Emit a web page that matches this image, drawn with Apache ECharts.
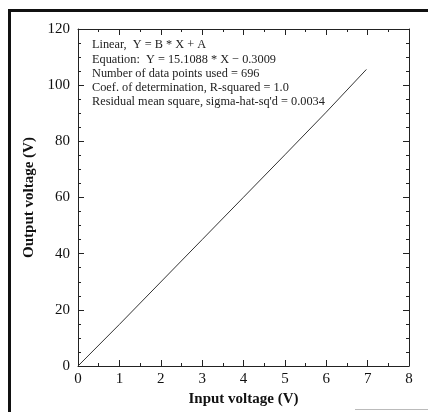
<!DOCTYPE html>
<html><head><meta charset="utf-8">
<script src="https://cdn.jsdelivr.net/npm/echarts@6/dist/echarts.min.js"></script>
<style>html,body{margin:0;padding:0;background:#fff}#c{width:428px;height:412px}</style>
</head><body><div id="c"></div>
<script>
const xTicks = [0,1,2,3,4,5,6,7,8];
const yTicks = [0,20,40,60,80,100,120];
const inputV = [0, 1, 2, 3, 4, 5, 6, 6.97];
const outputV = [0, 14.8, 29.9, 45.0, 60.1, 75.2, 90.4, 105.6];
const fitText = [
  'Linear,  Y = B * X + A',
  'Equation:  Y = 15.1088 * X \u2212 0.3009',
  'Number of data points used = 696',
  'Coef. of determination, R-squared = 1.0',
  'Residual mean square, sigma-hat-sq\'d = 0.0034'
];
const xTitle = 'Input voltage (V)';
const yTitle = 'Output voltage (V)';

const chart = echarts.init(document.getElementById('c'));
const font = '"Liberation Serif", "DejaVu Serif", serif';
const axisCommon = {
  axisLine: {show: true, onZero: false, lineStyle: {color: '#222', width: 1}},
  axisTick: {show: true, inside: true, length: 6, lineStyle: {color: '#222'}},
  minorTick: {show: true, splitNumber: 2, length: 3, lineStyle: {color: '#222'}},
  splitLine: {show: false}
};
chart.setOption({
  animation: false,
  backgroundColor: '#fff',
  grid: {left: 78, top: 29, right: 19, bottom: 31, containLabel: false},
  xAxis: [
    Object.assign({type: 'value', min: 0, max: 8, interval: 1, position: 'bottom',
      axisLabel: {color: '#111', fontFamily: font, fontSize: 15, margin: 6},
      name: xTitle, nameLocation: 'middle', nameGap: 26,
      nameTextStyle: {fontFamily: font, fontWeight: 'bold', fontSize: 15, color: '#111'}}, axisCommon),
    Object.assign({type: 'value', min: 0, max: 8, interval: 1, position: 'top',
      axisLabel: {show: false}}, axisCommon)
  ],
  yAxis: [
    Object.assign({type: 'value', min: 0, max: 120, interval: 20, position: 'left',
      axisLabel: {color: '#111', fontFamily: font, fontSize: 15, margin: 8},
      name: yTitle, nameLocation: 'middle', nameGap: 37,
      nameTextStyle: {fontFamily: font, fontWeight: 'bold', fontSize: 15, color: '#111'}},
      axisCommon, {minorTick: {show: true, splitNumber: 4, length: 3, lineStyle: {color: '#222'}}}),
    Object.assign({type: 'value', min: 0, max: 120, interval: 20, position: 'right',
      axisLabel: {show: false}},
      axisCommon, {minorTick: {show: true, splitNumber: 4, length: 3, lineStyle: {color: '#222'}}})
  ],
  series: [{
    type: 'line',
    data: inputV.map((x, i) => [x, outputV[i]]),
    showSymbol: false,
    lineStyle: {color: '#333', width: 1},
    xAxisIndex: 0, yAxisIndex: 0
  }],
  graphic: [
    {type: 'rect', left: 8, top: 9, shape: {width: 420, height: 3}, style: {fill: '#111'}},
    {type: 'rect', left: 8, top: 9, shape: {width: 3, height: 403}, style: {fill: '#111'}},
    {type: 'rect', left: 355, top: 409, shape: {width: 73, height: 1}, style: {fill: '#bbb'}},
    {type: 'text', left: 92, top: 38, style: {
      text: fitText.join('\n'), fontFamily: font, fontSize: 12.3, lineHeight: 14.2, fill: '#222'}}
  ]
});
</script></body></html>
